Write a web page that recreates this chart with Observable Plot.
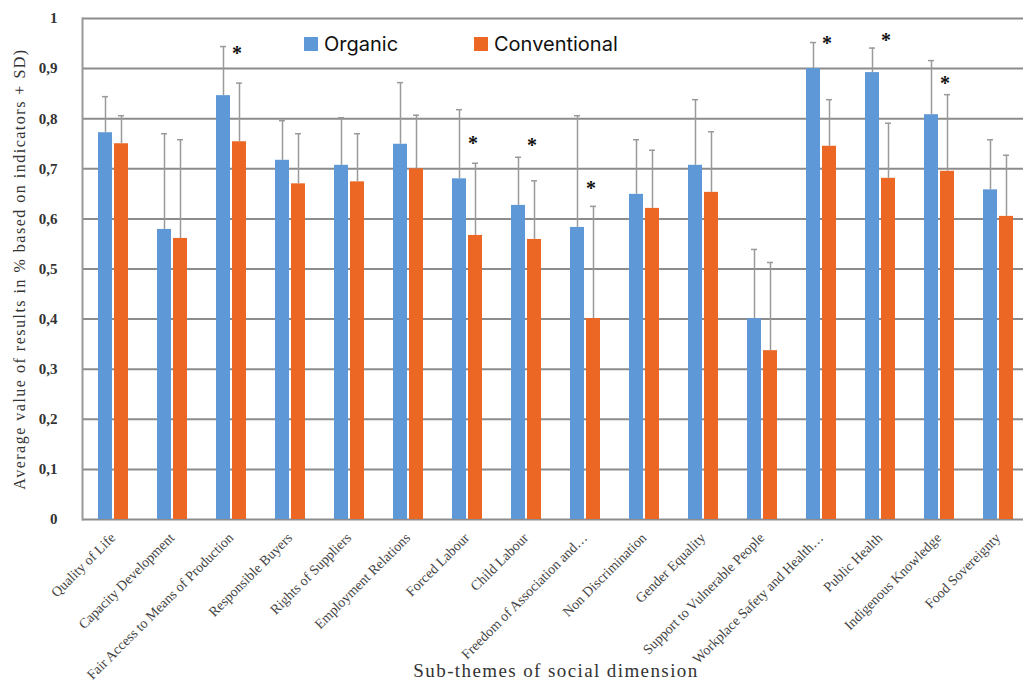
<!DOCTYPE html>
<html><head><meta charset="utf-8">
<script src="https://cdn.jsdelivr.net/npm/d3@7"></script>
<script src="https://cdn.jsdelivr.net/npm/@observablehq/plot@0.6"></script>
<style>
body{margin:0;background:#fff;}
#wrap{position:relative;width:1023px;height:684px;overflow:hidden;background:#fff;}
.item{position:absolute;top:34px;height:20px;display:flex;align-items:center;font:20px Inter, "Noto Sans", sans-serif;color:#111;white-space:nowrap}
.sw{display:inline-block;width:14px;height:14px;margin-right:6px}
</style></head>
<body><div id="wrap"></div>
<script>
const categories = ["Quality of Life","Capacity Development","Fair Access to Means of Production","Responsible Buyers","Rights of Suppliers","Employment Relations","Forced Labour","Child Labour","Freedom of Association and…","Non Discrimination","Gender Equality","Support to Vulnerable People","Workplace Safety and Health…","Public Health","Indigenous Knowledge","Food Sovereignty"];
const organic =        [0.772,0.579,0.846,0.717,0.707,0.749,0.680,0.627,0.583,0.649,0.707,0.401,0.900,0.892,0.808,0.658];
const conventional =   [0.750,0.561,0.754,0.670,0.674,0.700,0.567,0.559,0.401,0.621,0.653,0.337,0.745,0.681,0.695,0.605];
const organicSD =      [0.072,0.191,0.098,0.079,0.095,0.123,0.138,0.096,0.223,0.109,0.131,0.138,0.052,0.049,0.108,0.100];
const conventionalSD = [0.056,0.197,0.117,0.100,0.096,0.107,0.144,0.117,0.224,0.116,0.121,0.176,0.093,0.110,0.153,0.122];
const significance =   [null,null,0.940,null,null,null,0.760,0.756,0.671,null,null,null,0.960,0.966,0.880,null];
const yTicks = [0,0.1,0.2,0.3,0.4,0.5,0.6,0.7,0.8,0.9,1];
const series = ["Organic","Conventional"];
const colors = ["#5f98d6","#ec6724"];
const yTitle = "Average value of results in % based on indicators + SD)";
const xTitle = "Sub-themes of social dimension";

const org = categories.map((c,i)=>({cat:c, v:organic[i], sd:organicSD[i]}));
const conv = categories.map((c,i)=>({cat:c, v:conventional[i], sd:conventionalSD[i]}));
const stars = categories.map((c,i)=>({cat:c, y:significance[i]})).filter(d=>d.y!=null);

const errStroke = "#9a9a9a";
const chart = Plot.plot({
  width:1023, height:684, marginLeft:82, marginRight:-4, marginTop:18, marginBottom:165,
  x:{domain:categories, padding:0, label:null},
  y:{domain:[0,1], label:null},
  style:{background:"transparent", fontFamily:"Liberation Serif"},
  marks:[
    Plot.ruleY(yTicks,{stroke:"#8c8c8c", strokeWidth:2}),
    Plot.frame({anchor:"left", stroke:"#999", strokeWidth:2}),
    Plot.barY(org,{x:"cat", y:"v", fill:colors[0], dx:-7.5, insetLeft:22.5, insetRight:22.5}),
    Plot.barY(conv,{x:"cat", y:"v", fill:colors[1], dx:8.5, insetLeft:22.5, insetRight:22.5}),
    Plot.ruleX(org,{x:"cat", y1:"v", y2:d=>d.v+d.sd, dx:-7.5, stroke:errStroke, strokeWidth:1.5}),
    Plot.ruleX(conv,{x:"cat", y1:"v", y2:d=>d.v+d.sd, dx:8.5, stroke:errStroke, strokeWidth:1.5}),
    Plot.tickY(org,{x:"cat", y:d=>d.v+d.sd, dx:-7.5, insetLeft:26.5, insetRight:26.5, stroke:errStroke, strokeWidth:1.5}),
    Plot.tickY(conv,{x:"cat", y:d=>d.v+d.sd, dx:8.5, insetLeft:26.5, insetRight:26.5, stroke:errStroke, strokeWidth:1.5}),
    Plot.text(stars,{x:"cat", y:"y", text:()=>"*", dx:6, dy:5, fontSize:20, fontWeight:"bold", fill:"#111"}),
    Plot.axisY({ticks:yTicks, tickFormat:d=>String(d).replace(".", ","), tickSize:0, tickPadding:25, fontSize:15, fontWeight:"bold", fill:"#333", label:null}),
    Plot.text([yTitle],{frameAnchor:"left", textAnchor:"middle", dx:-63, rotate:-90, fontSize:16, fill:"#333", fontFamily:"Liberation Serif", text:d=>d, className:"ytitle"}),
    Plot.axisX({tickRotate:-45, tickSize:0, tickPadding:16, fontSize:14, fill:"#444", label:null})
  ]
});
const wrap = document.getElementById("wrap");
wrap.appendChild(chart);
const svg = d3.select(chart);
svg.selectAll("text").filter(function(){return this.textContent===yTitle;}).attr("letter-spacing","1.5px");
svg.append("text")
  .attr("x",556).attr("y",673)
  .attr("text-anchor","middle").attr("dominant-baseline","middle")
  .attr("font-family","Liberation Serif").attr("font-size",19)
  .attr("letter-spacing","1.4px").attr("fill","#333")
  .text(xTitle);
function add(cls, html, left){const d=document.createElement("div");d.className=cls;d.innerHTML=html;if(left!=null)d.style.left=left+"px";wrap.appendChild(d);}
add("item",`<span class="sw" style="background:${colors[0]}"></span>${series[0]}`,304);
add("item",`<span class="sw" style="background:${colors[1]}"></span>${series[1]}`,474);
</script>
</body></html>
